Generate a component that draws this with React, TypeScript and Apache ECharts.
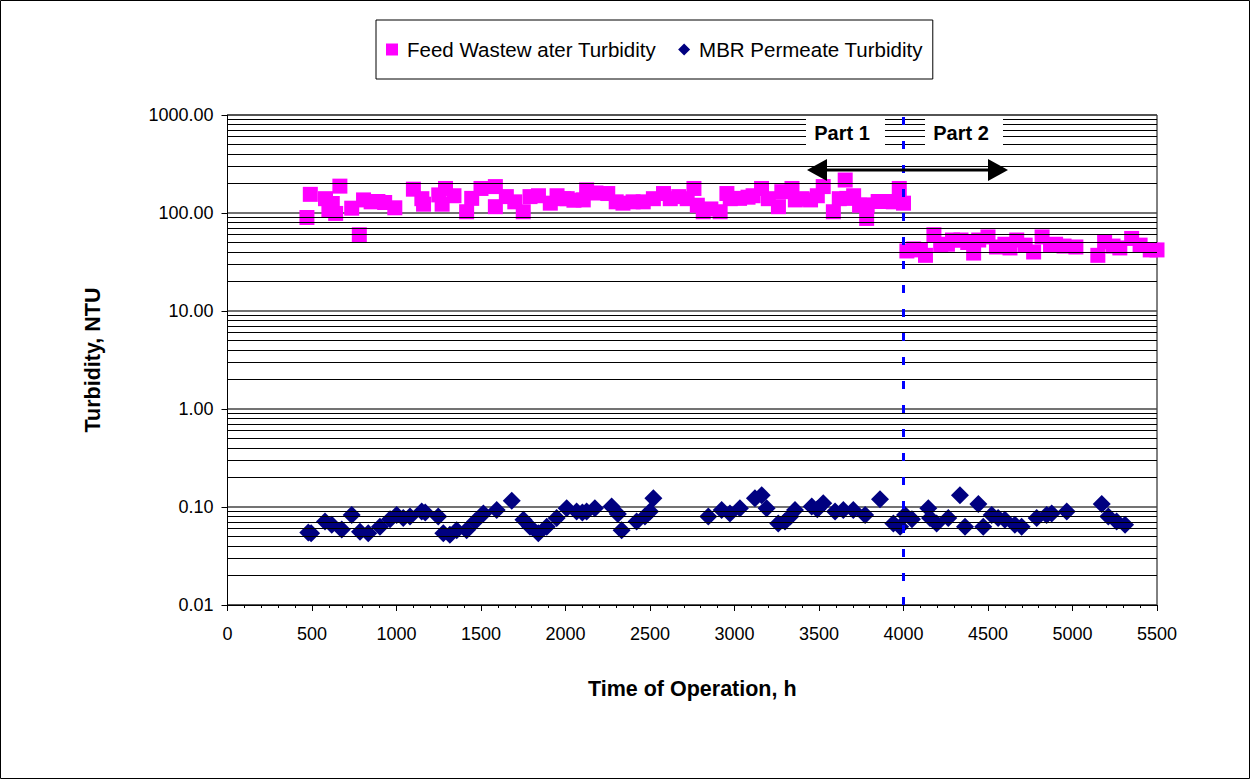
import React, { useEffect, useRef } from "react";
import * as echarts from "echarts";

const FONT = "'Liberation Sans', Arial, sans-serif";
const FEED_NAME = "Feed Wastew ater Turbidity";
const PERM_NAME = "MBR Permeate Turbidity";

const feedHours = [
  470, 490, 580, 600, 620, 640, 665, 735, 780, 805, 850, 890, 930, 990, 1100, 1150, 1160, 1250, 1270, 1290,
  1340, 1415, 1445, 1500, 1585, 1585, 1650, 1700, 1750, 1790, 1840, 1910, 1950, 1990, 2010, 2050, 2105, 2125,
  2180, 2250, 2300, 2340, 2400, 2460, 2520, 2580, 2620, 2670, 2720, 2760, 2780, 2815, 2860, 2915, 2955, 2975,
  3030, 3080, 3110, 3160, 3200, 3260, 3280, 3340, 3360, 3400, 3450, 3490, 3525, 3585, 3620, 3655, 3665, 3705,
  3740, 3782, 3785, 3850, 3900, 3940, 3975, 4000,
  4020, 4060, 4100, 4130, 4180, 4220, 4260, 4290, 4340, 4380, 4415, 4445, 4500, 4550, 4600, 4630, 4670, 4720,
  4770, 4820, 4870, 4900, 4950, 5020, 5150, 5190, 5240, 5280, 5350, 5400, 5460, 5500,
];
const feedValues = [
  90, 155, 140, 107, 125, 99, 188, 112, 60, 136, 130, 131, 128, 113, 175, 140, 123, 153, 123, 178,
  150, 103, 141, 178, 186, 116, 147, 130, 103, 147, 150, 126, 150, 140, 140, 135, 136, 172,
  160, 158, 130, 126, 130, 130, 140, 158, 140, 147, 140, 178, 120, 103, 110, 103, 158, 140,
  141, 145, 150, 178, 140, 116, 165, 178, 136, 140, 136, 150, 186, 103, 140, 217, 141, 150,
  120, 88, 121, 131, 131, 130, 178, 126,
  41, 43, 42, 37, 60, 47, 48, 53, 53, 50, 39, 53, 57, 45, 48, 44, 53, 47,
  40, 57, 47, 48, 46, 45, 37, 51, 46, 44, 55, 47, 42, 42,
];

const permHours = [
  478, 495, 577, 617, 676, 735, 784, 833, 902, 962, 1001, 1040, 1080, 1149, 1170, 1247, 1277, 1316, 1356, 1415,
  1465, 1514, 1593, 1682, 1751, 1790, 1839, 1889, 1948, 2007, 2066, 2100, 2125, 2174, 2273, 2310, 2332, 2421,
  2470, 2500, 2520, 2845, 2924, 2973, 3032, 3121, 3161, 3190, 3259, 3299, 3330, 3358, 3457, 3490, 3525, 3595,
  3644, 3703, 3773, 3861, 3940, 3980, 4009, 4050, 4147, 4157, 4196, 4265, 4334, 4364, 4443, 4472, 4522, 4560,
  4600, 4659, 4699, 4788, 4847, 4877, 4966, 5173, 5212, 5261, 5311,
];
const permValues = [
  0.055, 0.054, 0.071, 0.066, 0.059, 0.083, 0.056, 0.054, 0.063, 0.075, 0.083, 0.077, 0.08, 0.09, 0.088, 0.08, 0.054, 0.052, 0.058, 0.058,
  0.071, 0.086, 0.093, 0.116, 0.074, 0.063, 0.054, 0.063, 0.077, 0.097, 0.09, 0.088, 0.09, 0.097, 0.101, 0.085, 0.058, 0.071,
  0.08, 0.09, 0.123, 0.08, 0.093, 0.086, 0.097, 0.123, 0.132, 0.097, 0.068, 0.071, 0.08, 0.093, 0.101, 0.095, 0.109, 0.09,
  0.093, 0.093, 0.083, 0.12, 0.068, 0.063, 0.083, 0.075, 0.097, 0.077, 0.068, 0.077, 0.132, 0.063, 0.107, 0.063, 0.083, 0.077,
  0.074, 0.066, 0.063, 0.077, 0.083, 0.086, 0.09, 0.107, 0.08, 0.071, 0.066,
];

const decades = [0.01, 0.1, 1, 10, 100];
const minorMultipliers = [2, 3, 4, 5, 6, 7, 8, 9];
const partBoundary = 4000;

export default function App() {
  const ref = useRef<HTMLDivElement>(null);
  useEffect(() => {
    if (!ref.current) return;
    const chart = echarts.init(ref.current, undefined, { renderer: "svg" });
    const minorLines: any[] = [];
    decades.forEach((d) => minorMultipliers.forEach((m) => minorLines.push({ yAxis: +(d * m).toPrecision(3) })));
    const option: any = {
      animation: false,
      backgroundColor: "#fff",
      textStyle: { fontFamily: FONT },
      grid: {
        left: 227.5, right: 94, top: 115, bottom: 175,
        show: true, borderColor: "#000", borderWidth: 1, backgroundColor: "transparent",
      },
      legend: {
        left: 376, top: 20,
        padding: [19, 10, 19, 10],
        borderColor: "#000", borderWidth: 1, borderRadius: 0,
        itemGap: 22, itemWidth: 12, itemHeight: 12,
        textStyle: { fontFamily: FONT, fontSize: 20.5, color: "#000", padding: [0, 0, 0, 4] },
        data: [
          { name: FEED_NAME, icon: "rect" },
          { name: PERM_NAME, icon: "diamond" },
        ],
      },
      xAxis: {
        type: "value", min: 0, max: 5500, interval: 500,
        axisLine: { show: true, onZero: false, lineStyle: { color: "#000", width: 1 } },
        axisTick: { show: true, length: 6, lineStyle: { color: "#000" } },
        minorTick: { show: true, splitNumber: 5, length: 3, lineStyle: { color: "#000" } },
        splitLine: { show: false },
        axisLabel: { fontFamily: FONT, fontSize: 18, color: "#000", margin: 20, formatter: (v: number) => String(v) },
        name: "Time of Operation, h", nameLocation: "middle", nameGap: 73,
        nameTextStyle: { fontFamily: FONT, fontSize: 21.5, fontWeight: "bold", color: "#000" },
      },
      yAxis: {
        type: "log", logBase: 10, min: 0.01, max: 1000,
        axisLine: { show: true, onZero: false, lineStyle: { color: "#000", width: 1 } },
        axisTick: { show: true, length: 6, lineStyle: { color: "#000" } },
        splitLine: { show: true, lineStyle: { color: "#444", width: 1.5 } },
        axisLabel: {
          fontFamily: FONT, fontSize: 18, color: "#000", margin: 14,
          formatter: (v: number) => v.toFixed(2),
        },
        name: "Turbidity, NTU", nameLocation: "middle", nameGap: 124,
        nameTextStyle: { fontFamily: FONT, fontSize: 21.5, fontWeight: "bold", color: "#000" },
      },
      series: [
        {
          type: "line", name: "grid-helper", data: [], silent: true, z: 1,
          markLine: {
            silent: true, symbol: ["none", "none"], label: { show: false },
            lineStyle: { color: "#000", width: 1, type: "solid" },
            data: [
              ...minorLines,
              { xAxis: partBoundary, lineStyle: { color: "#0000FF", width: 3, type: [8, 16] } },
            ],
          },
        },
        {
          type: "scatter", name: FEED_NAME, symbol: "rect", symbolSize: 15, z: 3,
          itemStyle: { color: "#FF00FF", opacity: 1 },
          data: feedHours.map((h, i) => [h, feedValues[i]]),
        },
        {
          type: "scatter", name: PERM_NAME, symbol: "diamond", symbolSize: 18, z: 3,
          itemStyle: { color: "#000080", opacity: 1 },
          data: permHours.map((h, i) => [h, permValues[i]]),
        },
      ],
      graphic: [
        { type: "rect", z: 100, shape: { x: 0.5, y: 0.5, width: 1249, height: 778 }, style: { fill: "none", stroke: "#000", lineWidth: 1 } },
        { type: "rect", z: 100, shape: { x: 806, y: 119, width: 79, height: 27 }, style: { fill: "#fff" } },
        { type: "rect", z: 100, shape: { x: 925, y: 119, width: 78, height: 27 }, style: { fill: "#fff" } },
        { type: "text", z: 101, x: 842, y: 132.5, style: { text: "Part 1", fontFamily: FONT, fontSize: 20, fontWeight: "bold", fill: "#000", align: "center", verticalAlign: "middle" } },
        { type: "text", z: 101, x: 961, y: 132.5, style: { text: "Part 2", fontFamily: FONT, fontSize: 20, fontWeight: "bold", fill: "#000", align: "center", verticalAlign: "middle" } },
        { type: "line", z: 101, shape: { x1: 825, y1: 170, x2: 990, y2: 170 }, style: { stroke: "#000", lineWidth: 3 } },
        { type: "polygon", z: 101, shape: { points: [[807, 170], [827, 159], [827, 181]] }, style: { fill: "#000" } },
        { type: "polygon", z: 101, shape: { points: [[1008, 170], [988, 159], [988, 181]] }, style: { fill: "#000" } },
      ],
    };
    chart.setOption(option);
    return () => chart.dispose();
  }, []);
  return (
    <div
      ref={ref}
      style={{ position: "absolute", left: 0, top: 0, width: 1251, height: 780 }}
    />
  );
}
